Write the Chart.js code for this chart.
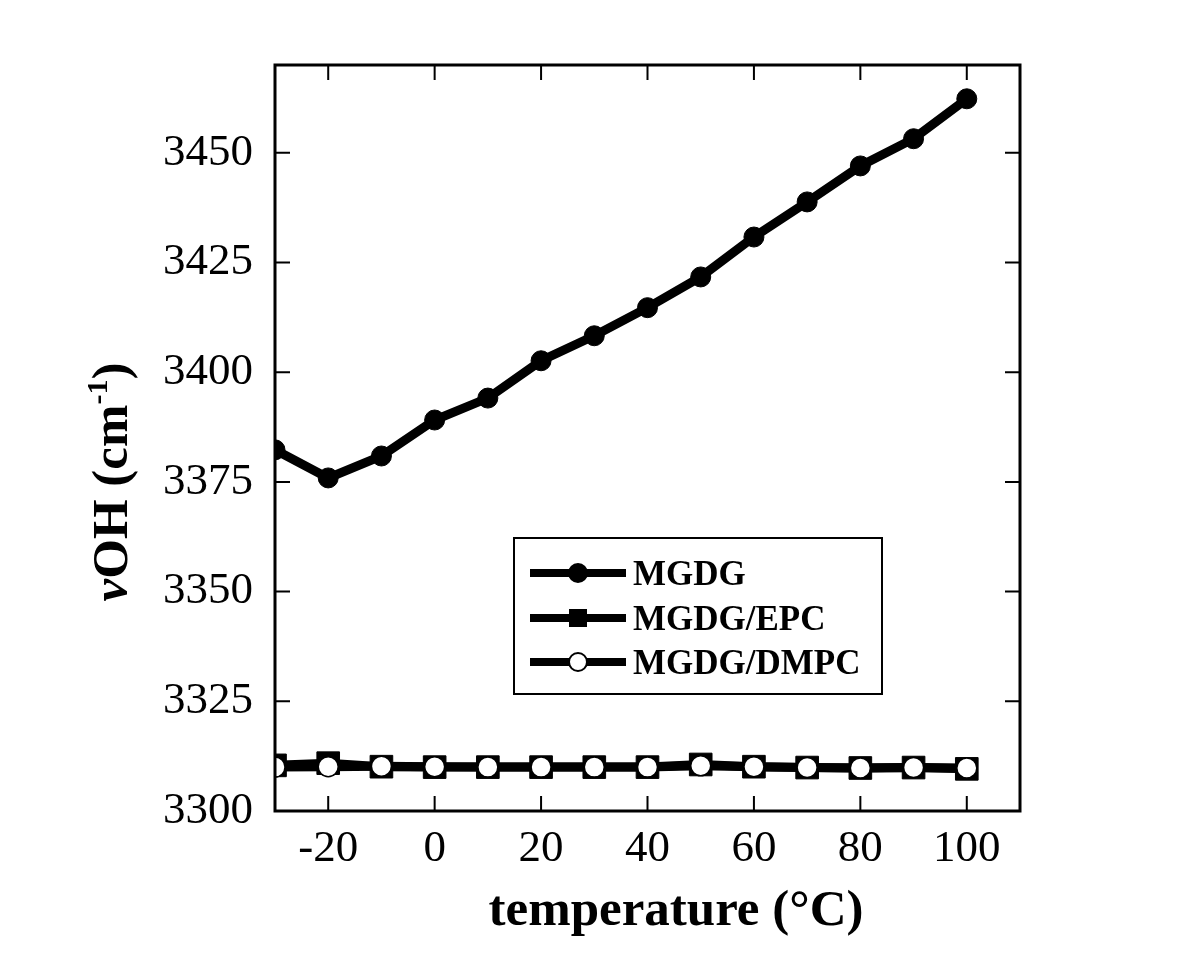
<!DOCTYPE html>
<html>
<head>
<meta charset="utf-8">
<script src="https://cdn.jsdelivr.net/npm/chart.js@4"></script>
<style>
  html, body { margin: 0; padding: 0; background: #fff; }
  #wrap { width: 1200px; height: 974px; }
</style>
</head>
<body>
<div id="wrap"><canvas id="the-chart" width="1200" height="974"></canvas></div>
<script>
// vOH vs temperature

const temps = [-30, -20, -10, 0, 10, 20, 30, 40, 50, 60, 70, 80, 90, 100];
const mgdg = [3382.3, 3375.9, 3380.9, 3389.1, 3394.1, 3402.6, 3408.3, 3414.7, 3421.7, 3430.8, 3438.8, 3447.0, 3453.2, 3462.3];
const mgdgEpc = [3310.4, 3310.9, 3310.1, 3310.0, 3310.0, 3310.0, 3310.0, 3310.0, 3310.6, 3310.1, 3309.9, 3309.8, 3309.9, 3309.6];
const mgdgDmpc = [3310.0, 3310.1, 3310.2, 3310.1, 3310.0, 3310.0, 3310.0, 3310.0, 3310.3, 3310.1, 3309.9, 3309.8, 3309.9, 3309.8];
const xTicks = [-20, 0, 20, 40, 60, 80, 100];
const yTicks = [3300, 3325, 3350, 3375, 3400, 3425, 3450];

const serif = '"Liberation Serif", "DejaVu Serif", serif';

function pts(ys) {
  return ys.map((y, i) => { return { x: temps[i], y: y } });
}

// frame, inward ticks on all four sides, axis titles and the boxed legend
const framePlugin = {
  id: 'frame',
  afterDatasetsDraw(chart) {
    const ctx = chart.ctx;
    const a = chart.chartArea;
    const xs = chart.scales.x;
    const ys = chart.scales.y;
    ctx.save();
    ctx.strokeStyle = '#000';
    ctx.lineWidth = 2;
    ctx.beginPath();
    for (const t of xTicks) {
      const px = xs.getPixelForValue(t);
      ctx.moveTo(px, a.bottom); ctx.lineTo(px, a.bottom - 15);
      ctx.moveTo(px, a.top); ctx.lineTo(px, a.top + 15);
    }
    for (const t of yTicks) {
      const py = ys.getPixelForValue(t);
      ctx.moveTo(a.left, py); ctx.lineTo(a.left + 15, py);
      ctx.moveTo(a.right, py); ctx.lineTo(a.right - 15, py);
    }
    ctx.stroke();
    ctx.lineWidth = 3;
    ctx.strokeRect(a.left, a.top, a.right - a.left, a.bottom - a.top);

    // x title
    ctx.fillStyle = '#000';
    ctx.font = 'bold 51px ' + serif;
    ctx.textAlign = 'center';
    ctx.textBaseline = 'alphabetic';
    ctx.fillText('temperature (°C)', 676, 925);

    // y title, rotated, with italic nu and superscript
    const parts = [
      { t: 'ν', f: 'italic bold 51px ' + serif, dy: 0 },
      { t: 'OH (cm', f: 'bold 51px ' + serif, dy: 0 },
      { t: '-1', f: 'bold 30px ' + serif, dy: -20 },
      { t: ')', f: 'bold 51px ' + serif, dy: 0 }
    ];
    let total = 0;
    for (const p of parts) { ctx.font = p.f; p.w = ctx.measureText(p.t).width; total += p.w; }
    ctx.translate(127, 482);
    ctx.rotate(-Math.PI / 2);
    ctx.textAlign = 'left';
    let cx = -total / 2;
    for (const p of parts) {
      ctx.font = p.f;
      ctx.fillText(p.t, cx, p.dy);
      cx += p.w;
    }
    ctx.restore();

    // legend
    ctx.save();
    ctx.strokeStyle = '#000';
    ctx.lineWidth = 2;
    ctx.strokeRect(514, 538, 368, 156);
    const rows = [573, 618, 662];
    chart.data.datasets.forEach((ds, i) => {
      const y = rows[i];
      ctx.strokeStyle = '#000';
      ctx.lineWidth = 8;
      ctx.beginPath();
      ctx.moveTo(530, y); ctx.lineTo(626, y);
      ctx.stroke();
      ctx.fillStyle = ds.pointBackgroundColor;
      ctx.lineWidth = 2;
      ctx.beginPath();
      if (ds.pointStyle === 'rect') {
        ctx.rect(570, y - 8, 16, 16);
      } else {
        ctx.arc(578, y, ds.legendRadius, 0, Math.PI * 2);
      }
      ctx.fill();
      ctx.stroke();
      ctx.fillStyle = '#000';
      ctx.font = 'bold 35px ' + serif;
      ctx.textAlign = 'left';
      ctx.textBaseline = 'alphabetic';
      ctx.fillText(ds.label, 633, y + 12);
    });
    ctx.restore();
  }
};

const ctx = document.getElementById('the-chart');
new Chart(ctx, {
  type: 'scatter',
  data: {
    datasets: [
      {
        label: 'MGDG',
        data: pts(mgdg),
        showLine: true,
        borderColor: '#000',
        borderWidth: 9,
        pointStyle: 'circle',
        pointRadius: 10,
        pointBackgroundColor: '#000',
        pointBorderColor: '#000',
        pointBorderWidth: 1,
        legendRadius: 9,
        order: 0
      },
      {
        label: 'MGDG/EPC',
        data: pts(mgdgEpc),
        showLine: true,
        borderColor: '#000',
        borderWidth: 9,
        pointStyle: 'rect',
        pointRadius: 16,
        pointBackgroundColor: '#000',
        pointBorderColor: '#000',
        pointBorderWidth: 1,
        legendRadius: 8,
        order: 2
      },
      {
        label: 'MGDG/DMPC',
        data: pts(mgdgDmpc),
        showLine: true,
        borderColor: '#000',
        borderWidth: 9,
        pointStyle: 'circle',
        pointRadius: 10,
        pointBackgroundColor: '#fff',
        pointBorderColor: '#000',
        pointBorderWidth: 1.5,
        legendRadius: 9,
        order: 1
      }
    ]
  },
  options: {
    responsive: false,
    animation: false,
    layout: { padding: { left: 0, top: 65, right: 180, bottom: 0 } },
    plugins: {
      legend: { display: false },
      tooltip: { enabled: false }
    },
    scales: {
      x: {
        type: 'linear',
        min: -30,
        max: 110,
        afterBuildTicks: (s) => { s.ticks = xTicks.map((v) => { return { value: v } }) },
        afterFit: (s) => { s.height = 163 },
        grid: { display: false, drawTicks: false },
        border: { display: false },
        ticks: {
          color: '#000',
          padding: 11,
          maxRotation: 0,
          callback: (v) => String(v),
          font: { family: serif, size: 45 }
        }
      },
      y: {
        type: 'linear',
        min: 3300,
        max: 3470,
        afterBuildTicks: (s) => { s.ticks = yTicks.map((v) => { return { value: v } }) },
        afterFit: (s) => { s.width = 275 },
        grid: { display: false, drawTicks: false },
        border: { display: false },
        ticks: {
          color: '#000',
          padding: 22,
          callback: (v) => String(v),
          font: { family: serif, size: 45 }
        }
      }
    }
  },
  plugins: [framePlugin]
});
</script>
</body>
</html>
